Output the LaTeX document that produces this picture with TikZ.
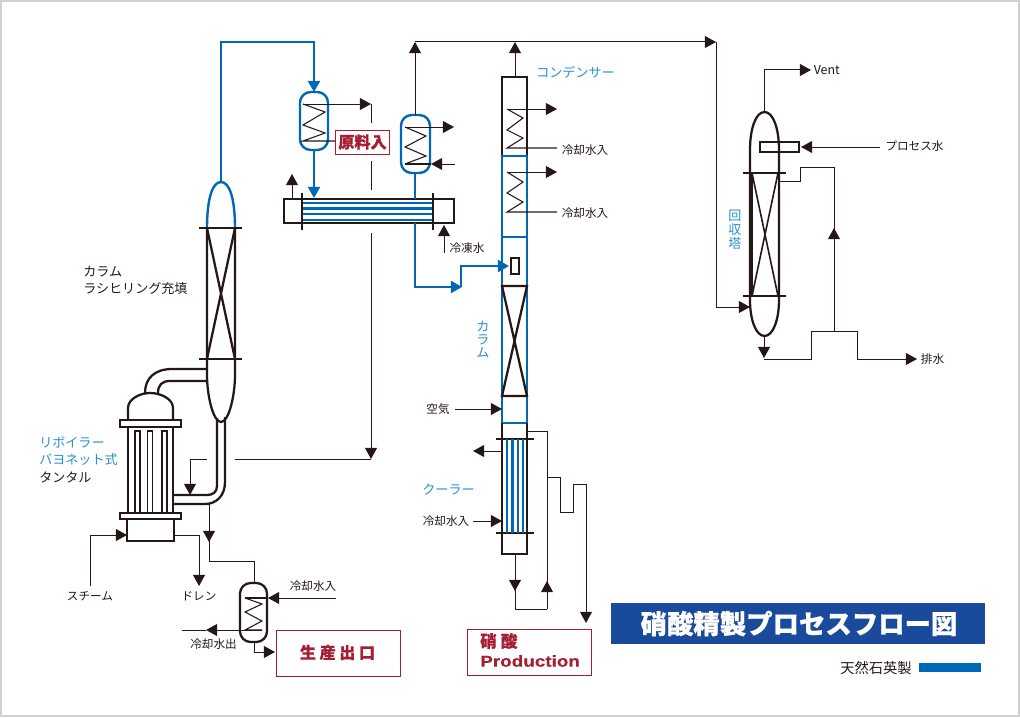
\documentclass[tikz,border=0pt]{standalone}
\usepackage{fontspec}
\setmainfont{Noto Sans CJK JP}
\newfontfamily\latinbold{Liberation Sans Bold}[FakeStretch=1.2,FakeBold=0.3]
\usetikzlibrary{arrows.meta}
\definecolor{pblue}{HTML}{0068B7}
\definecolor{lblue}{HTML}{2A8FCF}
\definecolor{dk}{HTML}{231815}
\definecolor{pred}{HTML}{A61E32}
\definecolor{navy}{HTML}{1A4A9C}
\tikzset{
  x=0.75pt,y=-0.75pt,
  thin line/.style={draw=dk,line width=0.75pt},
  wall/.style={draw=dk,line width=1.7pt},
  bwall/.style={draw=pblue,line width=1.8pt},
  coil/.style={draw=dk,line width=0.8pt},
  tube/.style={draw=pblue,line width=1.7pt},
  bpipe/.style={draw=pblue,line width=1.9pt},
  vessel/.style={rounded corners=8pt},
  tip/.style={-{Triangle[length=8.4pt,width=9pt]}},
  lbl/.style={font=\fontsize{8.7}{11}\selectfont,text=dk,inner sep=0pt},
  big lbl/.style={font=\fontsize{9.8}{12}\selectfont,text=dk,inner sep=0pt},
  blbl/.style={big lbl,text=lblue},
  prod/.style={draw=pred,line width=0.7pt,fill=white},
  prodtxt/.style={text=pred,inner sep=0pt},
}
\begin{document}
\begin{tikzpicture}
\useasboundingbox (0,0) rectangle (1020,717);
\draw[draw=black!18,line width=1.5pt] (1,1) rectangle (1019,716);
% recycle column
\draw[bwall] (207,228) .. controls (207,200) and (212,182) .. (221,182) .. controls (230,182) and (235,200) .. (235,228);
\draw[wall] (207,228) -- (207,375) .. controls (207,395) and (213,422) .. (221,422) .. controls (229,422) and (235,395) .. (235,375) -- (235,228);
\draw[wall] (199,228) -- (242,228);
\draw[wall] (199,359) -- (242,359);
\draw[wall] (207,228) -- (235,359);
\draw[wall] (235,228) -- (207,359);
% pipes
\draw[wall] (207,369) -- (172,369) .. controls (155,369) and (145,378) .. (145,393);
\draw[wall] (207,381) -- (170,381) .. controls (162,381) and (158,385) .. (158,393);
\draw[wall] (217,418) -- (217,486) .. controls (217,492) and (213,495) .. (207,495) -- (173,495);
\draw[wall] (225,417) -- (225,482) .. controls (225,496) and (216,504) .. (205,504) -- (173,504);
% reboiler
\draw[wall] (128,420) -- (128,408) .. controls (128,399) and (140,393) .. (150,393) .. controls (161,393) and (173,399) .. (173,408) -- (173,420);
\draw[wall] (120,420) rectangle (181,427);
\draw[wall] (128,427) -- (128,513);
\draw[wall] (173,427) -- (173,513);
\draw[wall] (120,513) rectangle (181,519);
\draw[wall] (127,519) rectangle (174,541);
\foreach \tx in {135,147.5,162}{
  \draw[draw=dk,line width=1.3pt] (\tx,513) -- (\tx,431) -- (\tx+5,431) -- (\tx+5,513);
}
% side stream of the reboiler
\coordinate (rbA) at (207,459);
\coordinate (rbB) at (190,459);
\coordinate (rbC) at (190,495);
\draw[thin line,tip] (rbA) -- (rbB) -- (rbC);
\coordinate (rtA) at (235,459);
\coordinate (rtB) at (371,459);
\draw[thin line] (rtA) -- (rtB);
\draw[thin line,tip] (371,233) -- (rtB);
\draw[thin line] (371,190) -- (371,161);
\draw[thin line] (371,123) -- (371,104);
% steam and drain
\draw[thin line,tip] (90,586) -- (90,535) -- (127,535);
\draw[thin line,tip] (174,535) -- (199,535) -- (199,586);
\node[lbl] (steam) at (90,596) {スチーム};
\node[lbl] (drain) at (199,596) {ドレン};
% product line
\draw[thin line,tip] (209,504) -- (209,542);
\draw[thin line] (209,540) -- (209,561) -- (254,561) -- (254,583);
% product condenser
\draw[wall,vessel] (240,583) rectangle (267,642);
\draw[coil] (245,598) -- (262,604) -- (245,612) -- (262,621) -- (245,630) -- (262,630);
\coordinate (pcIn) at (336,598);
\draw[thin line,tip] (pcIn) -- (268,598);
\draw[coil] (245,598) -- (268,598);
\node[lbl] (pcInL) at (313,586) {冷却水入};
\draw[thin line,tip] (262,630) -- (206,630);
\draw[thin line] (206,630) -- (182,630);
\node[lbl] (pcOut) at (213.5,644) {冷却水出};
\draw[thin line,tip] (254,642) -- (254,652) -- (275,652);
\node[prod,minimum width=93pt,minimum height=34.5pt] (prodA) at (338,653) {};
\node[prodtxt,font=\fontsize{12}{14}\selectfont\bfseries\addfontfeature{FakeBold=0.6}] at (337.5,652.5) {生 産 出 口};
% upper blue lines
\draw[bpipe,tip] (221,182) -- (221,42) -- (314,42) -- (314,92);
\draw[bpipe,tip] (314,150) -- (314,198);
% condenser 1
\draw[bwall,vessel] (300,92) rectangle (328,150);
\draw[coil] (303,104) -- (325,112) -- (303,125) -- (325,133) -- (303,141) -- (336,141);
\draw[thin line,tip] (303,104) -- (371,104);
\node[prod,minimum width=41pt,minimum height=18pt] (feed) at (362.5,142) {};
\node[prodtxt,font=\fontsize{12}{14}\selectfont\bfseries\addfontfeature{FakeBold=0.6}] at (feed) {原料入};
% heat exchanger
\foreach \ty in {203,208.5,214,220}{\draw[tube] (302,\ty) -- (433,\ty);}
\draw[wall] (284,199) rectangle (454,223);
\draw[wall] (302,193) -- (302,230);
\draw[wall] (433,193) -- (433,230);
\draw[thin line,tip] (292,199) -- (292,174);
\draw[thin line,tip] (444,253) -- (444,225);
\node[lbl] (brine) at (467,248) {冷凍水};
% condenser 2
\draw[bpipe] (415,173) -- (415,199);
\draw[bwall,vessel] (401,115) rectangle (430,173);
\draw[coil] (405,127) -- (426,136) -- (405,147) -- (426,156) -- (405,164);
\draw[thin line,tip] (405,127) -- (454,127);
\draw[thin line,tip] (455,164) -- (431,164);
\draw[coil] (431,164) -- (405,164);
\draw[thin line,tip] (415,115) -- (415,42);
\draw[thin line,tip] (415,42) -- (716,42);
\draw[thin line,tip] (515,77) -- (515,42);
% blue feed to main column
\draw[bpipe,tip] (415,223) -- (415,287) -- (462,287);
\draw[bpipe,tip] (461,287) -- (461,266) -- (509,266);
% main column
\draw[wall] (502,156) -- (502,77) -- (527,77) -- (527,156);
\draw[coil] (507,109) -- (523,118) -- (507,130) -- (523,138) -- (507,148) -- (557,148);
\draw[thin line,tip] (507,109) -- (557,109);
\node[lbl] (cw1) at (585,150) {冷却水入};
\draw[bwall] (502,156) rectangle (527,237);
\draw[coil] (507,172) -- (523,182) -- (507,193) -- (523,202) -- (507,212) -- (557,212);
\draw[thin line,tip] (507,172) -- (557,172);
\node[lbl] (cw2) at (585,213) {冷却水入};
\draw[bwall] (502,237) -- (502,423) -- (527,423) -- (527,237);
\draw[draw=dk,line width=1.2pt] (511,258) rectangle (519,274);
\draw[wall] (502,286) -- (527,286) -- (502,396) -- (527,396) -- cycle;
\draw[wall] (502,423) -- (502,554) -- (527,554) -- (527,423);
\draw[wall] (496,439) -- (534,439);
\draw[wall] (496,533) -- (534,533);
\foreach \tx in {507,512.5,518,523}{\draw[tube] (\tx,439) -- (\tx,533);}
\draw[thin line,tip] (455,409) -- (502,409);
\node[lbl] (air) at (438,409) {空気};
\draw[thin line,tip] (502,451) -- (473,451);
\node[blbl] (cooler) at (448.5,490) {クーラー};
\draw[thin line,tip] (473,521) -- (502,521);
\node[lbl] (cw3) at (446,521) {冷却水入};
% bottom loop
\draw[thin line,tip] (515,554) -- (515,591);
\draw[thin line] (515,589) -- (515,609) -- (547,609);
\draw[thin line,tip] (547,609) -- (547,581);
\draw[thin line] (547,583) -- (547,431) -- (527,431);
\draw[thin line,tip] (547,477) -- (560,477) -- (560,512) -- (573,512) -- (573,484) -- (586,484) -- (586,623);
\node[prod,minimum width=93pt,minimum height=34.5pt] (prodB) at (529.5,652) {};
\node[prodtxt,anchor=west,font=\fontsize{12.5}{14}\selectfont\bfseries\addfontfeature{FakeBold=0.6}] at (480,641) {硝 酸};
\node[prodtxt,anchor=west,font=\latinbold\fontsize{11.8}{14}\selectfont] at (480,661) {Production};
% recovery tower
\draw[wall] (750,173) -- (750,300) .. controls (750,320) and (756,336) .. (764.5,336) .. controls (773,336) and (779,320) .. (779,300) -- (779,150) .. controls (779,128) and (773,112) .. (764.5,112) .. controls (756,112) and (750,128) .. (750,150) -- cycle;
\draw[draw=dk,line width=1.2pt] (752,173) -- (752,296);
\draw[draw=dk,line width=1.2pt] (752,173) -- (778,296);
\draw[draw=dk,line width=1.2pt] (778,173) -- (752,296);
\draw[wall] (743,173) -- (786,173);
\draw[wall] (743,296) -- (786,296);
\draw[draw=dk,line width=1.2pt] (760,142) rectangle (799,152);
\draw[thin line,tip] (764,112) -- (764,70) -- (811,70);
\node[lbl,anchor=west,font=\fontsize{9.3}{11}\selectfont] (vent) at (813.5,70) {Vent};
\draw[thin line,tip] (880,147) -- (801,147);
\node[lbl] (pw) at (914.5,146) {プロセス水};
\draw[thin line] (779,181) -- (800,181) -- (800,167) -- (834,167) -- (834,331);
\draw[thin line,tip] (834,300) -- (834,228);
\draw[thin line,tip] (764,336) -- (764,358);
\draw[thin line,tip] (764,359) -- (811,359) -- (811,331) -- (857,331) -- (857,359) -- (917,359);
\node[lbl] (waste) at (932.5,359) {排水};
\draw[thin line,tip] (716,42) -- (716,307) -- (750,307);
% labels
\node[big lbl,anchor=west] (c1) at (83,272) {カラム};
\node[big lbl,anchor=west] (c2) at (83,289) {ラシヒリング充填};
\node[blbl,anchor=west] (r1) at (39,442) {リボイラー};
\node[blbl,anchor=west] (r2) at (39,460) {バヨネット式};
\node[big lbl,anchor=west] (r3) at (39,477) {タンタル};
\node[blbl] (cond) at (575.5,72) {コンデンサー};
\node[blbl] at (483,327) {カ};
\node[blbl] at (483,340) {ラ};
\node[blbl] at (483,353) {ム};
\node[blbl] at (735,216) {回};
\node[blbl] at (735,230) {収};
\node[blbl] at (735,244) {塔};
% title
\node[draw=none,fill=navy,minimum width=280.5pt,minimum height=31pt,inner sep=0pt] (title) at (798,623.5) {};
\node[font=\fontsize{19.8}{22}\selectfont\bfseries\addfontfeature{FakeBold=0.8},text=white,inner sep=0pt] at (799,623.5) {硝酸精製プロセスフロー図};
\node[lbl,font=\fontsize{10.7}{12}\selectfont] (legend) at (876,668) {天然石英製};
\fill[pblue] (919,663) rectangle (981,672);
\end{tikzpicture}
\end{document}
